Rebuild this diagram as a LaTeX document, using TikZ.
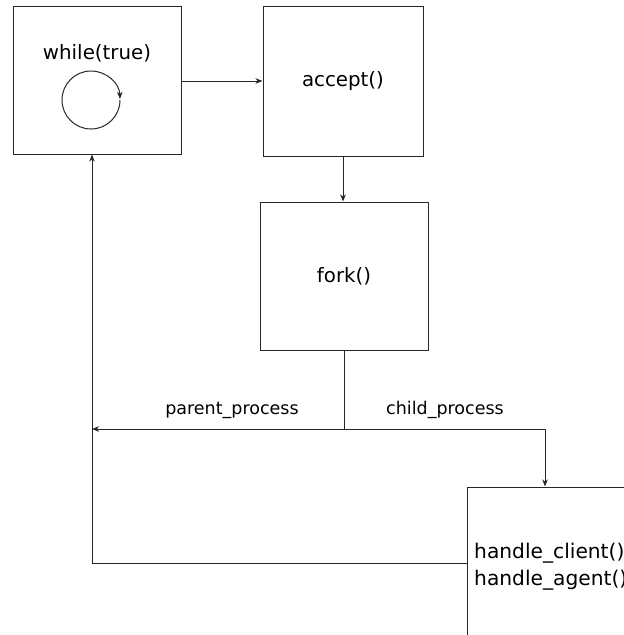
\documentclass[tikz,border=0pt]{standalone}
\usepackage{fontspec}
\setmainfont{DejaVu Sans}
\usetikzlibrary{arrows.meta}
\tikzset{
  box/.style = {draw = black!85, line width = 1pt, minimum width = 168pt, minimum height = 148pt, inner sep = 0pt, font = \fontsize{19.8}{27}\selectfont},
  wire/.style = {draw = black!85, line width = 1pt},
  tip/.style = {-{Stealth[length = 7pt, width = 5.5pt, inset = 2pt]}},
  lbl/.style = {font = \fontsize{17.5}{20}\selectfont, anchor = base}
}
\begin{document}
\begin{tikzpicture}[x = 1pt, y = -1pt]
\useasboundingbox (0,0) rectangle (624,635);
\clip (0,0) rectangle (624,635);
% the four stages
\node[box] (loop) at (97,80) {};
\node[font = \fontsize{19.8}{24}\selectfont] (looptext) at (97,53) {while(true)};
\node[box, minimum width = 160pt, minimum height = 150pt] (accept) at (343,81) {accept()};
\node[box] (fork) at (344,276) {fork()};
\node[box] (handle) at (551,561) {};
\node[anchor = west, align = left, font = \fontsize{20.2}{27}\selectfont, inner sep = 0pt] (handletext) at (474,567) {handle\_client()\\handle\_agent()};
% the loop sign
\draw[wire, tip] (120,100) arc[start angle = 0, end angle = 358, radius = 29];
% connectors
\coordinate (split) at (344,429);
\coordinate (back) at (92,563);
\draw[wire, tip] (loop.east |- 0,81) -- (accept.west |- 0,81);
\draw[wire, tip] (accept.south) -- (accept.south |- fork.north);
\draw[wire, tip] (fork.south) -- (split) -- (split -| back);
\draw[wire, tip] (split) -| ([xshift = -6pt]handle.north);
\draw[wire, tip] (handle.west |- back) -- (back) -- (back |- loop.south);
\node[lbl] (parentlbl) at (232,414) {parent\_process};
\node[lbl] (childlbl) at (445,414) {child\_process};
\end{tikzpicture}
\end{document}
